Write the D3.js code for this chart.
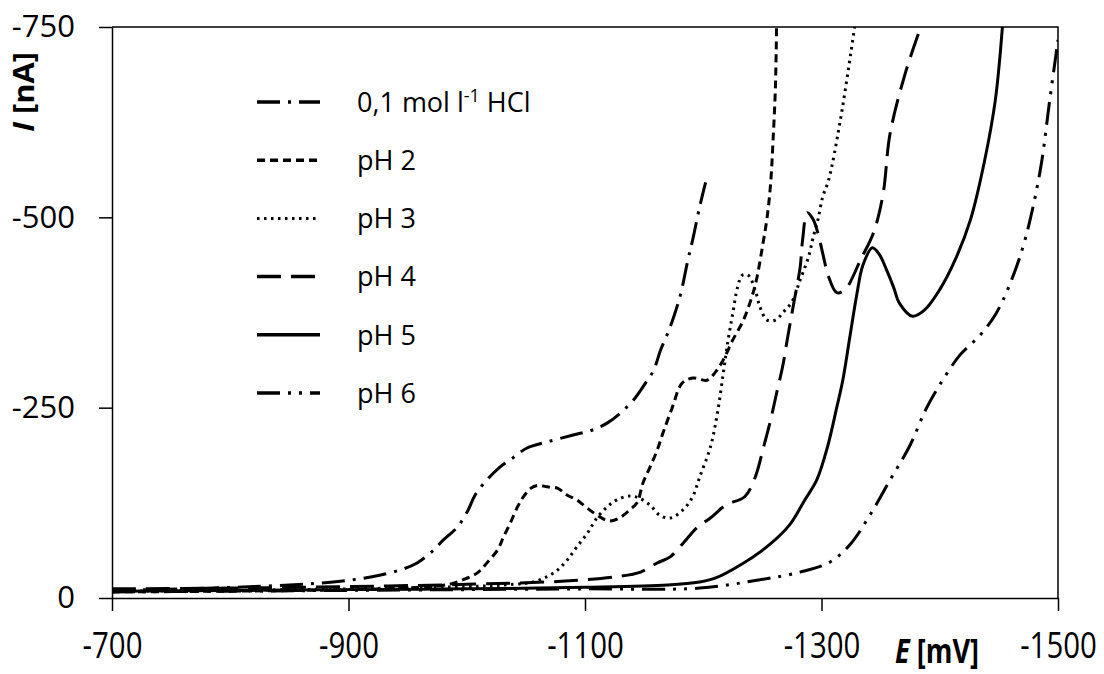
<!DOCTYPE html>
<html lang="en">
<head>
    <meta charset="UTF-8">
    <title>Polarographic curves</title>
    <script src="https://d3js.org/d3.v7.min.js"></script>
    <style>
        body { margin: 0; background: #fff; }
        .curve { fill: none; stroke: #000; stroke-width: 3px; }
        .axis text { font-family: "Open Sans", sans-serif; fill: #000; }
        .legend text { font-family: "Open Sans", sans-serif; font-size: 27px; fill: #000; }
    </style>
</head>
<body>
    <div id="chart"></div>
    <script>
        // potential E [mV] and current I [nA]
        var hclE = [-700, -760, -820, -887, -920, -944, -958, -972, -980, -992, -1001, -1007, -1017, -1028, -1039, -1051, -1068, -1090, -1107, -1119, -1130, -1141, -1151, -1158, -1164, -1170, -1175, -1181, -1187, -1191, -1197, -1202];
        var hclI = [-10, -12, -15, -21, -28, -37, -46, -63, -76, -93, -115, -135, -155, -172, -184, -197, -205, -214, -221, -230, -243, -260, -282, -299, -326, -348, -369, -400, -444, -470, -514, -546];

        var ph2E = [-700, -800, -900, -960, -985, -997, -1009, -1017, -1026, -1031, -1037, -1043, -1048, -1054, -1060, -1068, -1077, -1085, -1093, -1102, -1113, -1121, -1130, -1138, -1144, -1149, -1155, -1161, -1166, -1174, -1182, -1191, -1203, -1210, -1217, -1225, -1234, -1241, -1245, -1250, -1254, -1257, -1259, -1261, -1262];
        var ph2I = [-8, -9, -11, -14, -18, -24, -33, -46, -63, -80, -99, -120, -133, -144, -148, -146, -144, -135, -129, -118, -106, -101, -106, -116, -125, -151, -172, -194, -217, -251, -282, -289, -286, -296, -313, -339, -365, -395, -418, -461, -500, -545, -600, -670, -750];

        var ph3E = [-700, -800, -900, -1000, -1040, -1056, -1068, -1077, -1085, -1093, -1102, -1110, -1119, -1127, -1138, -1146, -1155, -1163, -1172, -1183, -1191, -1197, -1206, -1212, -1217, -1221, -1225, -1229, -1233, -1238, -1244, -1248, -1254, -1261, -1268, -1275, -1282, -1289, -1293, -1297, -1301, -1306, -1316, -1328];
        var ph3I = [-9, -10, -12, -15, -18, -21, -28, -37, -50, -67, -85, -105, -120, -129, -134, -131, -122, -109, -105, -116, -133, -159, -198, -243, -296, -339, -374, -408, -424, -424, -404, -382, -365, -365, -376, -389, -418, -448, -474, -497, -527, -549, -628, -750];

        var ph4E = [-700, -800, -900, -1000, -1080, -1127, -1147, -1161, -1172, -1183, -1195, -1206, -1219, -1235, -1244, -1251, -1257, -1262, -1267, -1271, -1275, -1279, -1282, -1284, -1288, -1293, -1297, -1301, -1306, -1313, -1320, -1323, -1333, -1344, -1352, -1358, -1371, -1384];
        var ph4I = [-12, -13, -15, -18, -22, -28, -34, -46, -54, -72, -93, -105, -122, -133, -159, -198, -234, -269, -303, -339, -374, -408, -435, -470, -506, -497, -479, -453, -422, -401, -405, -411, -444, -480, -530, -610, -690, -750];

        var ph5E = [-700, -800, -900, -1000, -1100, -1170, -1197, -1210, -1231, -1256, -1273, -1286, -1296, -1305, -1313, -1318, -1324, -1330, -1335, -1343, -1349, -1355, -1361, -1366, -1377, -1387, -1400, -1413, -1426, -1438, -1447, -1453];
        var ph5I = [-9, -10, -11, -12, -14, -17, -21, -26, -43, -70, -96, -129, -155, -198, -251, -286, -343, -400, -437, -460, -451, -431, -408, -387, -370, -378, -405, -444, -497, -575, -654, -750];

        var ph6E = [-700, -800, -900, -1000, -1100, -1197, -1248, -1282, -1307, -1324, -1341, -1358, -1375, -1388, -1400, -1417, -1434, -1447, -1459, -1472, -1485, -1493, -1500];
        var ph6I = [-8, -9, -10, -11, -12, -13, -24, -34, -47, -70, -109, -155, -201, -247, -280, -319, -345, -372, -411, -470, -562, -654, -733];

        var seriesNames = ["0,1 mol l-1 HCl", "pH 2", "pH 3", "pH 4", "pH 5", "pH 6"];
        var xTicks = [-700, -900, -1100, -1300, -1500];
        var yTicks = [0, -250, -500, -750];

        var series = [
            { name: seriesNames[0], E: hclE, I: hclI, dash: "23,8,3,8", w: 3 },
            { name: seriesNames[1], E: ph2E, I: ph2I, dash: "8,5", w: 3 },
            { name: seriesNames[2], E: ph3E, I: ph3I, dash: "2.5,4.5", w: 2.5 },
            { name: seriesNames[3], E: ph4E, I: ph4I, dash: "24,10", w: 3 },
            { name: seriesNames[4], E: ph5E, I: ph5I, dash: null, w: 3 },
            { name: seriesNames[5], E: ph6E, I: ph6I, dash: "23,8,3,8,3,8", w: 3 }
        ];

        var width = 1104, height = 674;
        var margin = { top: 27, right: 46, bottom: 76, left: 112 };
        var iw = width - margin.left - margin.right;
        var ih = height - margin.top - margin.bottom;

        var svg = d3.select("#chart").append("svg")
            .attr("width", width)
            .attr("height", height);

        var g = svg.append("g")
            .attr("transform", `translate(${margin.left},${margin.top})`);

        var x = d3.scaleLinear().domain([-700, -1500]).range([0, iw]);
        var y = d3.scaleLinear().domain([0, -750]).range([ih, 0]);

        g.append("clipPath").attr("id", "clip")
            .append("rect").attr("width", iw).attr("height", ih);

        // frame (top and right border)
        g.append("path")
            .attr("d", `M0,0H${iw}V${ih}`)
            .attr("fill", "none")
            .attr("stroke", "#000")
            .attr("stroke-width", 1.5);

        var xAxis = g.append("g")
            .attr("class", "axis")
            .attr("transform", `translate(0,${ih})`)
            .call(d3.axisBottom(x).tickValues(xTicks).tickSize(13).tickSizeOuter(0).tickFormat(function (d) { return String(d); }));
        xAxis.selectAll("text")
            .style("font-size", "30px")
            .attr("y", 0)
            .attr("dy", 0)
            .attr("transform", "translate(0,60) scale(0.98,1.2)");
        xAxis.selectAll("path, line").attr("stroke-width", 1.5);

        var yAxis = g.append("g")
            .attr("class", "axis")
            .call(d3.axisLeft(y).tickValues(yTicks).tickSize(13).tickSizeOuter(0).tickPadding(24).tickFormat(function (d) { return String(d); }));
        yAxis.selectAll("text").style("font-size", "31px");
        yAxis.selectAll("path, line").attr("stroke-width", 1.5);

        var line = d3.line()
            .x(function (d) { return x(d[0]); })
            .y(function (d) { return y(d[1]); })
            .curve(d3.curveCatmullRom.alpha(0.5));

        g.append("g").attr("clip-path", "url(#clip)")
            .selectAll("path")
            .data(series)
            .enter().append("path")
            .attr("class", "curve")
            .attr("d", function (s) { return line(s.E.map(function (e, i) { return [e, s.I[i]]; })); })
            .attr("stroke-width", function (s) { return s.w; })
            .attr("stroke-dasharray", function (s) { return s.dash; });

        // axis titles
        var yTitle = svg.append("text")
            .attr("transform", "translate(34,92) rotate(-90) scale(1.1,1)")
            .attr("text-anchor", "middle")
            .style("font-family", "'Open Sans', sans-serif")
            .style("font-size", "28px")
            .style("font-weight", "bold");
        yTitle.append("tspan").style("font-style", "italic").text("I");
        yTitle.append("tspan").text(" [nA]");

        var xTitle = svg.append("text")
            .attr("transform", "translate(937,663) scale(0.97,1.18)")
            .attr("text-anchor", "middle")
            .style("font-family", "'Open Sans', sans-serif")
            .style("font-size", "28px")
            .style("font-weight", "bold");
        xTitle.append("tspan").style("font-style", "italic").text("E");
        xTitle.append("tspan").text(" [mV]");

        // legend
        var legend = svg.append("g").attr("class", "legend");
        var rowY = d3.scaleLinear().domain([0, 5]).range([102, 393]);
        series.forEach(function (s, i) {
            var ly = rowY(i);
            legend.append("line")
                .attr("x1", 257).attr("x2", 320)
                .attr("y1", ly).attr("y2", ly)
                .attr("stroke", "#000")
                .attr("stroke-width", s.w + 0.5)
                .attr("stroke-dasharray", s.dash);
            var t = legend.append("text")
                .attr("x", 357).attr("y", ly)
                .attr("dy", "0.36em");
            if (i === 0) {
                t.append("tspan").text("0,1 mol l");
                t.append("tspan").attr("dy", -10).style("font-size", "18px").text("-1");
                t.append("tspan").attr("dy", 10).text(" HCl");
            } else {
                t.text(s.name);
            }
        });
    </script>
</body>
</html>
